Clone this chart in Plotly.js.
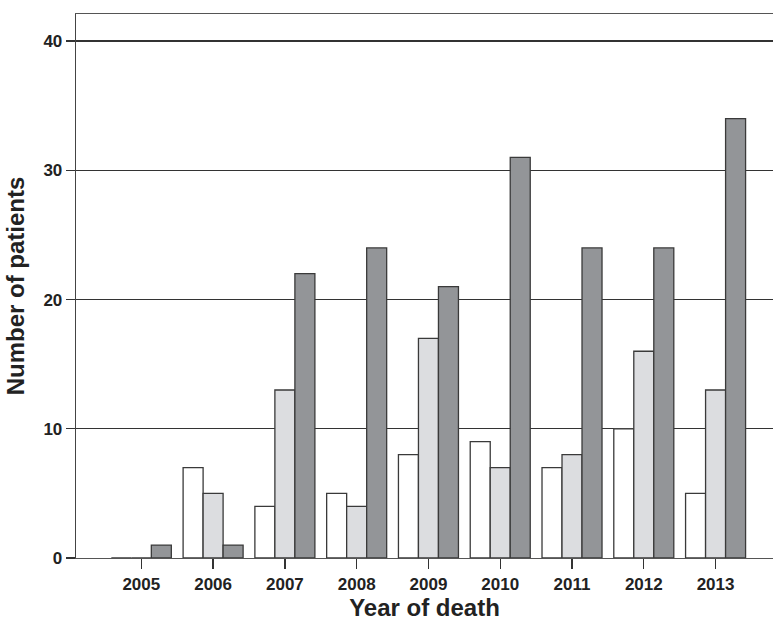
<!DOCTYPE html>
<html>
<head>
<meta charset="utf-8">
<script src="https://cdn.plot.ly/plotly-3.0.1.min.js"></script>
<style>html,body{margin:0;padding:0;background:#fff;}#chart{width:773px;height:626px;}</style>
</head>
<body>
<div id="chart"></div>
<script>
var years = [2005, 2006, 2007, 2008, 2009, 2010, 2011, 2012, 2013];
var seriesA = [0, 7, 4, 5, 8, 9, 7, 10, 5];
var seriesB = [0, 5, 13, 4, 17, 7, 8, 16, 13];
var seriesC = [1, 1, 22, 24, 21, 31, 24, 24, 34];
var tickVals = [0, 10, 20, 30, 40];

var outline = {color: '#3a3a3a', width: 1.3};
function bar(vals, fill) {
  return {type: 'bar', x: years, y: vals, marker: {color: fill, line: outline}, hoverinfo: 'none'};
}
var data = [bar(seriesA, '#ffffff'), bar(seriesB, '#dcdde0'), bar(seriesC, '#939598')];

var font = {family: 'Liberation Sans, Arial, sans-serif', color: '#222'};
var layout = {
  width: 773, height: 626,
  margin: {l: 76, r: 0, t: 14, b: 68},
  paper_bgcolor: '#ffffff', plot_bgcolor: '#ffffff',
  showlegend: false,
  barmode: 'group', bargap: 0.164, bargroupgap: 0,
  font: font,
  xaxis: {
    range: [2004.09, 2013.8],
    tickvals: years, ticktext: years.map(String),
    ticks: 'outside', ticklen: 10, tickwidth: 1.3, tickcolor: '#333',
    showgrid: false, zeroline: false,
    showline: true, linecolor: '#555', linewidth: 1.4, mirror: true,
    tickfont: {family: font.family, size: 17, color: '#222', weight: 'bold'},
    title: {text: '<b>Year of death</b>', font: {family: font.family, size: 24, color: '#222'}, standoff: 2}
  },
  yaxis: {
    range: [0, 42.1],
    tickvals: tickVals, ticktext: tickVals.map(String),
    ticks: 'outside', ticklen: 9, tickwidth: 1.3, tickcolor: '#333',
    showgrid: true, gridcolor: '#333333', gridwidth: 1.4,
    zeroline: false,
    showline: true, linecolor: '#444', linewidth: 1.3,
    tickfont: {family: font.family, size: 17, color: '#222', weight: 'bold'},
    title: {text: '<b>Number of patients</b>', font: {family: font.family, size: 24, color: '#222'}, standoff: 12}
  }
};
Plotly.newPlot('chart', data, layout, {staticPlot: true});
</script>
</body>
</html>
